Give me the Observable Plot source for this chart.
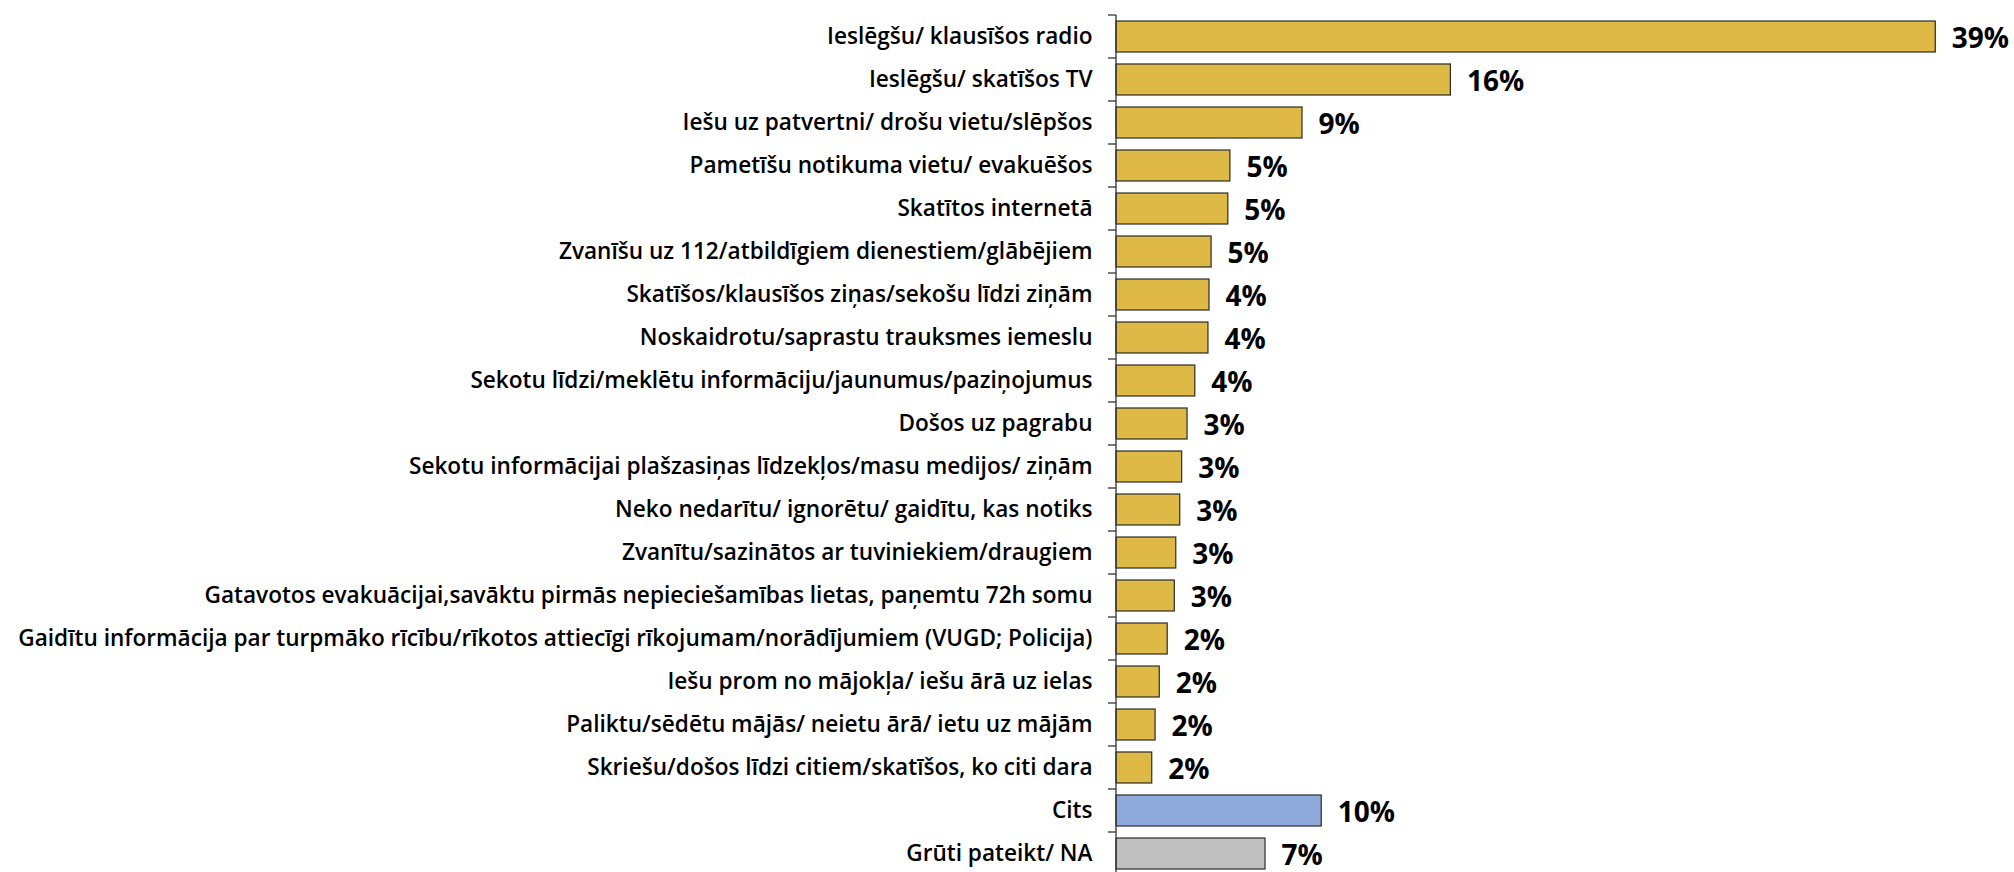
<!DOCTYPE html>
<html>
<head>
<meta charset="utf-8">
<script src="https://cdn.jsdelivr.net/npm/d3@7"></script>
<script src="https://cdn.jsdelivr.net/npm/@observablehq/plot@0.6"></script>
<style>
  html, body { margin: 0; padding: 0; background: #fff; overflow: hidden; }
  #chart svg { display: block; }
</style>
</head>
<body>
<div id="chart"></div>
<script>
const categories = [
  "Ieslēgšu/ klausīšos radio",
  "Ieslēgšu/ skatīšos TV",
  "Iešu uz patvertni/ drošu vietu/slēpšos",
  "Pametīšu notikuma vietu/ evakuēšos",
  "Skatītos internetā",
  "Zvanīšu uz 112/atbildīgiem dienestiem/glābējiem",
  "Skatīšos/klausīšos ziņas/sekošu līdzi ziņām",
  "Noskaidrotu/saprastu trauksmes iemeslu",
  "Sekotu līdzi/meklētu informāciju/jaunumus/paziņojumus",
  "Došos uz pagrabu",
  "Sekotu informācijai plašzasiņas līdzekļos/masu medijos/ ziņām",
  "Neko nedarītu/ ignorētu/ gaidītu, kas notiks",
  "Zvanītu/sazinātos ar tuviniekiem/draugiem",
  "Gatavotos evakuācijai,savāktu pirmās nepieciešamības lietas, paņemtu 72h somu",
  "Gaidītu informācija par turpmāko rīcību/rīkotos attiecīgi rīkojumam/norādījumiem (VUGD; Policija)",
  "Iešu prom no mājokļa/ iešu ārā uz ielas",
  "Paliktu/sēdētu mājās/ neietu ārā/ ietu uz mājām",
  "Skriešu/došos līdzi citiem/skatīšos, ko citi dara",
  "Cits",
  "Grūti pateikt/ NA"
];
const values = [39.2, 16.0, 8.9, 5.45, 5.35, 4.55, 4.45, 4.4, 3.77, 3.4, 3.14, 3.05, 2.86, 2.79, 2.45, 2.07, 1.87, 1.71, 9.82, 7.13];
const valueLabels = ["39%", "16%", "9%", "5%", "5%", "5%", "4%", "4%", "4%", "3%", "3%", "3%", "3%", "3%", "2%", "2%", "2%", "2%", "10%", "7%"];
const groups = ["answer","answer","answer","answer","answer","answer","answer","answer","answer","answer","answer","answer","answer","answer","answer","answer","answer","answer","other","na"];
const groupDomain = ["answer", "other", "na"];
const groupColors = ["#DEB946", "#8EAADC", "#BFBFBF"];

const data = categories.map((c, i) => ({category: c, value: values[i], label: valueLabels[i], group: groups[i]}));

const FONT = "'Open Sans', 'Noto Sans', sans-serif";
const PAD_INNER = 0.285;

function categoryTicks(index, scales, channels, dimensions) {
  const y = scales.y, x = scales.x;
  const step = y(categories[1]) - y(categories[0]);
  const bw = typeof y.bandwidth === "function" ? y.bandwidth() : (typeof y.bandwidth === "number" ? y.bandwidth : step * (1 - PAD_INNER));
  const gap = step - bw;
  const x0 = x(0);
  const g = d3.create("svg:g").attr("stroke", "#333").attr("stroke-width", 1.3);
  const first = y(categories[0]) - gap / 2;
  g.append("line").attr("x1", x0).attr("x2", x0).attr("y1", first).attr("y2", first + step * categories.length);
  for (let i = 0; i <= categories.length; i++) {
    const yy = first + i * step;
    g.append("line").attr("x1", x0 - 8).attr("x2", x0).attr("y1", yy).attr("y2", yy);
  }
  return g.node();
}

const chart = Plot.plot({
  width: 2014,
  height: 872,
  marginLeft: 1116,
  marginRight: 20,
  marginTop: 0,
  marginBottom: 0,
  style: {fontFamily: FONT, background: "#fff", overflow: "visible"},
  x: {domain: [0, 42], range: [1116, 1116 + 42 * 20.9], axis: null},
  y: {domain: categories, range: [11.3, 877.7], paddingInner: PAD_INNER, paddingOuter: PAD_INNER / 2, label: null},
  color: {domain: groupDomain, range: groupColors},
  marks: [
    Plot.barX(data, {x: "value", y: "category", fill: "group", stroke: "#2b2b2b", strokeWidth: 1.2}),
    categoryTicks,
    Plot.axisY({tickSize: 0, tickPadding: 24, fontSize: 22.6, fontWeight: 600, fill: "#000", label: null}),
    Plot.text(data, {x: "value", y: "category", text: "label", textAnchor: "start", dx: 16, dy: 2, fontSize: 28, fontWeight: 700, fill: "#000"})
  ]
});
document.getElementById("chart").appendChild(chart);
</script>
</body>
</html>
